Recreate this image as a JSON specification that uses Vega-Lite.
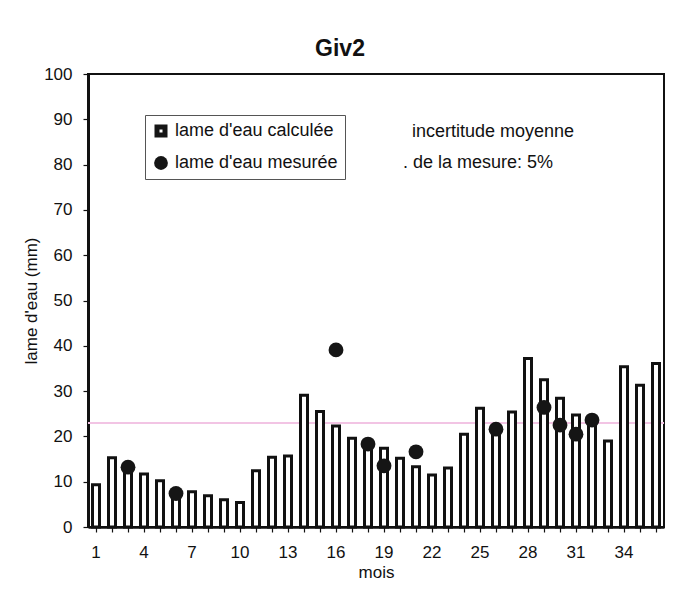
{
  "$schema": "https://vega.github.io/schema/vega-lite/v6.json",
  "autosize": {"type": "none"},
  "padding": {"left": 88, "top": 74, "right": 12, "bottom": 70},
  "width": 576,
  "height": 453,
  "background": "white",
  "config": {
    "font": "Liberation Sans",
    "view": {"stroke": "#111", "strokeWidth": 2},
    "axis": {"grid": false, "labelFont": "Liberation Sans", "titleFont": "Liberation Sans", "labelColor": "#111", "titleColor": "#111", "domainColor": "#111", "tickColor": "#111"},
    "legend": {
      "labelLimit": 300,
      "symbolType": {"expr": "datum.index === 0 ? 'square' : 'circle'"},
      "symbolSize": {"expr": "datum.index === 0 ? 64 : 190"},
      "symbolStrokeWidth": {"expr": "datum.index === 0 ? 5 : 0"},
      "symbolStrokeColor": "#151515"
    }
  },
  "title": {"text": "Giv2", "fontSize": 23, "fontWeight": "bold", "font": "Liberation Sans", "color": "#111", "anchor": "middle", "dx": -36, "dy": 31, "baseline": "alphabetic", "offset": 17},
  "data": {"values": [
    {"mois": 1, "calc": 9.3, "mes": null},
    {"mois": 2, "calc": 15.3, "mes": null},
    {"mois": 3, "calc": 13.8, "mes": 13.2},
    {"mois": 4, "calc": 11.7, "mes": null},
    {"mois": 5, "calc": 10.2, "mes": null},
    {"mois": 6, "calc": 7.8, "mes": 7.4},
    {"mois": 7, "calc": 7.8, "mes": null},
    {"mois": 8, "calc": 6.9, "mes": null},
    {"mois": 9, "calc": 6.0, "mes": null},
    {"mois": 10, "calc": 5.4, "mes": null},
    {"mois": 11, "calc": 12.4, "mes": null},
    {"mois": 12, "calc": 15.4, "mes": null},
    {"mois": 13, "calc": 15.7, "mes": null},
    {"mois": 14, "calc": 29.1, "mes": null},
    {"mois": 15, "calc": 25.5, "mes": null},
    {"mois": 16, "calc": 22.3, "mes": 39.1},
    {"mois": 17, "calc": 19.6, "mes": null},
    {"mois": 18, "calc": 18.8, "mes": 18.3},
    {"mois": 19, "calc": 17.4, "mes": 13.5},
    {"mois": 20, "calc": 15.2, "mes": null},
    {"mois": 21, "calc": 13.3, "mes": 16.6},
    {"mois": 22, "calc": 11.5, "mes": null},
    {"mois": 23, "calc": 13.0, "mes": null},
    {"mois": 24, "calc": 20.5, "mes": null},
    {"mois": 25, "calc": 26.2, "mes": null},
    {"mois": 26, "calc": 21.8, "mes": 21.6},
    {"mois": 27, "calc": 25.4, "mes": null},
    {"mois": 28, "calc": 37.2, "mes": null},
    {"mois": 29, "calc": 32.5, "mes": 26.4},
    {"mois": 30, "calc": 28.4, "mes": 22.5},
    {"mois": 31, "calc": 24.7, "mes": 20.5},
    {"mois": 32, "calc": 23.8, "mes": 23.6},
    {"mois": 33, "calc": 19.0, "mes": null},
    {"mois": 34, "calc": 35.4, "mes": null},
    {"mois": 35, "calc": 31.3, "mes": null},
    {"mois": 36, "calc": 36.1, "mes": null}
  ]},
  "layer": [
    {
      "mark": {"type": "rule", "color": "#f2c4e4", "strokeWidth": 1.5},
      "encoding": {"y": {"datum": 23, "type": "quantitative"}}
    },
    {
      "mark": {"type": "bar", "size": 7, "stroke": "#111", "strokeWidth": 3},
      "encoding": {
        "x": {
          "field": "mois", "type": "ordinal",
          "scale": {"type": "band", "paddingInner": 0, "paddingOuter": 0},
          "axis": {
            "title": "mois", "titleFontSize": 17, "titleFontWeight": "normal", "titlePadding": 4,
            "labelFontSize": 17, "labelAngle": 0, "labelPadding": 12,
            "labelExpr": "(datum.value - 1) % 3 === 0 ? datum.value : ''",
            "domainWidth": 2.5, "tickSize": 5, "tickWidth": 1.2
          }
        },
        "y": {
          "field": "calc", "type": "quantitative",
          "scale": {"domain": [0, 100], "nice": false, "zero": true},
          "axis": {
            "title": "lame d'eau (mm)", "titleFontSize": 17, "titleFontWeight": "normal", "titlePadding": 3,
            "values": [0, 10, 20, 30, 40, 50, 60, 70, 80, 90, 100],
            "labelFontSize": 17, "labelPadding": 11,
            "domainWidth": 3, "tickSize": 5, "tickWidth": 1.2
          }
        },
        "color": {
          "datum": "lame d'eau calculée",
          "type": "nominal",
          "scale": {"domain": ["lame d'eau calculée", "lame d'eau mesurée"], "range": ["white", "#151515"]},
          "legend": {
            "title": null,
            "orient": "none",
            "legendX": 57,
            "legendY": 41,
            "direction": "vertical",
            "fillColor": "white",
            "strokeColor": "#555",
            "padding": 7,
            "rowPadding": 9,
            "labelFontSize": 18,
            "labelFont": "Liberation Sans",
            "labelColor": "#111",
            "labelOffset": 5,
            "labelLimit": 300
          }
        }
      }
    },
    {
      "transform": [{"filter": "isValid(datum.mes)"}],
      "mark": {"type": "point", "filled": true, "size": 220, "opacity": 1},
      "encoding": {
        "x": {"field": "mois", "type": "ordinal"},
        "y": {"field": "mes", "type": "quantitative"},
        "color": {"datum": "lame d'eau mesurée", "type": "nominal"}
      }
    },
    {
      "data": {"values": [{"mois": 21, "val": 86.1, "texte": "incertitude moyenne"}]},
      "mark": {"type": "text", "align": "left", "baseline": "alphabetic", "fontSize": 18, "font": "Liberation Sans", "color": "#111", "dx": -4},
      "encoding": {
        "x": {"field": "mois", "type": "ordinal"},
        "y": {"field": "val", "type": "quantitative"},
        "text": {"field": "texte"}
      }
    },
    {
      "data": {"values": [{"mois": 21, "val": 79.25, "texte": ". de la mesure: 5%"}]},
      "mark": {"type": "text", "align": "left", "baseline": "alphabetic", "fontSize": 18, "font": "Liberation Sans", "color": "#111", "dx": -13},
      "encoding": {
        "x": {"field": "mois", "type": "ordinal"},
        "y": {"field": "val", "type": "quantitative"},
        "text": {"field": "texte"}
      }
    }
  ]
}
